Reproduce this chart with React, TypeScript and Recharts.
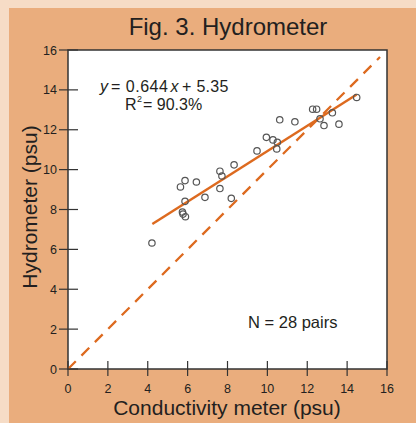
import React from 'react'
import { ScatterChart, Scatter, XAxis, YAxis, CartesianGrid, ReferenceArea } from 'recharts'

// conductivity meter (x) vs hydrometer (y), psu
const conductivity = [
  4.21, 5.64, 5.87, 5.87, 5.74, 5.77, 5.89, 6.44, 6.87, 7.62, 7.72, 7.62, 8.33, 8.19,
  9.48, 9.95, 10.28, 10.5, 10.47, 10.62, 11.38, 12.27, 12.47, 12.64, 12.84, 13.26, 13.59, 14.48,
]
const hydrometer = [
  6.32, 9.13, 9.45, 8.41, 7.87, 7.77, 7.64, 9.38, 8.61, 9.92, 9.68, 9.05, 10.24, 8.56,
  10.94, 11.62, 11.49, 11.37, 11.04, 12.5, 12.4, 13.03, 13.03, 12.55, 12.21, 12.85, 12.28, 13.62,
]

// fitted line end points as drawn, and the 1:1 line
const fitX = [4.23, 14.48]
const fitY = [7.27, 13.77]
const oneToOneX = [0, 15.65]
const oneToOneY = [0, 15.65]

const ticks = [0, 2, 4, 6, 8, 10, 12, 14, 16]

const points = conductivity.map((x, i) => ({ x, y: hydrometer[i] }))
const fitLine = fitX.map((x, i) => ({ x, y: fitY[i] }))
const diagLine = oneToOneX.map((x, i) => ({ x, y: oneToOneY[i] }))

const orange = '#dd6a1f'
const ink = '#231f20'
const font = '"Liberation Sans", Arial, sans-serif'

// tick mark crosses the axis line, label below
const XTick = (props: any) => {
  const { x, y, payload } = props
  return (
    <g>
      <line x1={x} x2={x} y1={y - 8} y2={y + 7} stroke="#333" strokeWidth={1.2} />
      <text x={x} y={y + 24} textAnchor="middle" fontSize={12.5} fill={ink} fontFamily={font}>
        {payload.value}
      </text>
    </g>
  )
}

const YTick = (props: any) => {
  const { x, y, payload } = props
  return (
    <g>
      <line x1={x - 9} x2={x + 10} y1={y} y2={y} stroke="#333" strokeWidth={1.2} />
      <text x={x - 11} y={y + 4.5} textAnchor="end" fontSize={12.5} fill={ink} fontFamily={font}>
        {payload.value}
      </text>
    </g>
  )
}

const Dot = (props: any) => (
  <circle cx={props.cx} cy={props.cy} r={3.2} fill="none" stroke="#555" strokeWidth={1.2} />
)

const NoShape = () => <g />

export default function App() {
  return (
    <div style={{ position: 'absolute', left: 0, top: 0, width: 416, height: 423, background: '#f6dcc6' }}>
      <div style={{ position: 'absolute', left: 9, top: 8, width: 407, height: 415, background: '#eaad7d' }} />
      <div style={{ position: 'absolute', left: 0, top: 0 }}>
        <ScatterChart width={416} height={423} margin={{ top: 50, right: 29, bottom: 14, left: 8 }}>
          <CartesianGrid fill="#fff" horizontal={false} vertical={false} />
          <XAxis
            type="number"
            dataKey="x"
            domain={[0, 16]}
            ticks={ticks}
            height={40}
            axisLine={false}
            tickLine={false}
            tickSize={0}
            tickMargin={0}
            tick={XTick}
            interval={0}
          />
          <YAxis
            type="number"
            dataKey="y"
            domain={[0, 16]}
            ticks={ticks}
            width={60}
            axisLine={false}
            tickLine={false}
            tickSize={0}
            tickMargin={0}
            tick={YTick}
            interval={0}
          />
          <ReferenceArea x1={0} x2={16} y1={0} y2={16} fill="none" stroke="#333" strokeWidth={1.5} />
          <Scatter
            data={diagLine}
            line={{ stroke: orange, strokeWidth: 2.3, strokeDasharray: '11 8' }}
            shape={NoShape}
            isAnimationActive={false}
          />
          <Scatter
            data={fitLine}
            line={{ stroke: orange, strokeWidth: 2.5 }}
            shape={NoShape}
            isAnimationActive={false}
          />
          <Scatter data={points} shape={Dot} isAnimationActive={false} />
        </ScatterChart>
      </div>
      <svg
        width={416}
        height={423}
        style={{ position: 'absolute', left: 0, top: 0, pointerEvents: 'none' }}
        fontFamily={font}
        fill={ink}
      >
        <text x={228} y={35} textAnchor="middle" fontSize={24}>
          Fig. 3. Hydrometer
        </text>
        <text x={37} y={207} textAnchor="middle" fontSize={21} transform="rotate(-90, 37, 207)">
          Hydrometer (psu)
        </text>
        <text x={227} y={415} textAnchor="middle" fontSize={21}>
          Conductivity meter (psu)
        </text>
        {/* regression equation, pieces placed side by side */}
        <text x={100} y={92} fontSize={16} fontStyle="italic">y</text>
        <text x={111} y={92} fontSize={16} letterSpacing={0.5}>= 0.644</text>
        <text x={170.5} y={92} fontSize={16} fontStyle="italic">x</text>
        <text x={182} y={92} fontSize={16} letterSpacing={0.3}>+ 5.35</text>
        <text x={125} y={109.5} fontSize={16}>R</text>
        <text x={137} y={101.5} fontSize={9}>2</text>
        <text x={143} y={109.5} fontSize={16}>= 90.3%</text>
        <text x={248} y={328} fontSize={16.5}>
          N = 28 pairs
        </text>
      </svg>
    </div>
  )
}
